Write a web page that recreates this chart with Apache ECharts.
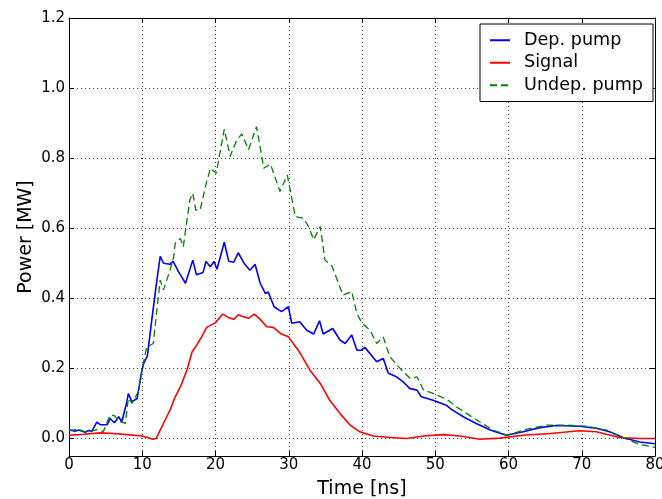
<!DOCTYPE html>
<html>
<head>
<meta charset="utf-8">
<script src="https://cdn.jsdelivr.net/npm/echarts@6/dist/echarts.min.js"></script>
<style>
html,body{margin:0;padding:0;background:#fff;}
#chart{width:662px;height:499px;}
</style>
</head>
<body>
<div id="chart"></div>
<script>
// Time [ns], Power [MW] pairs
var depPump = [
[0,0.024],[0.9,0.021],[1.3,0.024],[2.2,0.018],[2.7,0.023],[3.1,0.02],[3.8,0.047],[4.3,0.039],[5.2,0.039],[5.6,0.057],
[6.2,0.045],[6.8,0.062],[7.2,0.047],[7.9,0.105],[8.1,0.128],[8.6,0.105],[9.3,0.114],[9.5,0.138],[9.95,0.195],[10.2,0.214],
[10.7,0.236],[11.3,0.338],[12.0,0.452],[12.45,0.52],[12.9,0.50],[13.8,0.497],[14.2,0.506],[14.95,0.476],[15.9,0.443],[16.9,0.509],
[17.4,0.467],[18.3,0.474],[18.7,0.505],[19.3,0.49],[19.8,0.505],[20.2,0.483],[21.2,0.56],[21.8,0.506],[22.5,0.503],[23.1,0.53],
[24.0,0.497],[24.7,0.48],[25.4,0.497],[26.1,0.443],[26.8,0.414],[27.2,0.418],[28.0,0.376],[29.0,0.362],[29.95,0.376],[30.4,0.329],
[31.5,0.333],[32.45,0.309],[33.4,0.298],[34.2,0.336],[34.7,0.298],[36.0,0.314],[37.0,0.281],[37.7,0.271],[38.6,0.295],[39.3,0.252],
[39.9,0.252],[40.4,0.26],[42.0,0.219],[42.9,0.228],[43.6,0.186],[44.7,0.176],[45.6,0.162],[46.5,0.143],[47.5,0.138],[48.1,0.119],
[49.7,0.109],[51.5,0.095],[52.2,0.083],[54.0,0.06],[55.6,0.043],[57.5,0.024],[59.7,0.009],[62.0,0.019],[64.3,0.031],[66.5,0.037],
[69.7,0.035],[72.0,0.029],[73.8,0.019],[75.6,0.003],[77.9,-0.01],[80,-0.015]
];
var signal = [
[0,0.009],[2,0.012],[4.3,0.016],[6,0.014],[7.9,0.011],[9.95,0.007],[10.8,0.002],[11.45,-0.002],[11.9,0.0],[12.45,0.024],
[13.1,0.052],[13.8,0.081],[14.5,0.119],[15.2,0.147],[16.1,0.195],[16.8,0.247],[17.45,0.267],[18.1,0.29],[18.8,0.317],[19.95,0.33],
[21.0,0.355],[21.8,0.345],[22.5,0.34],[23.1,0.353],[23.7,0.348],[24.5,0.343],[25.3,0.355],[26.1,0.34],[27.0,0.319],[27.9,0.317],
[29.0,0.298],[29.95,0.29],[31.3,0.252],[32.9,0.195],[34.3,0.157],[35.6,0.109],[37.0,0.071],[38.4,0.038],[39.7,0.019],[41.5,0.007],
[43.8,0.003],[46.1,0.0],[48.4,0.007],[51.1,0.011],[53.4,0.007],[56.1,-0.002],[58.8,0.001],[62,0.009],[65.7,0.014],[69.7,0.022],
[72,0.019],[75.1,0.003],[77.9,0.0],[80,0.0]
];
var undepPump = [
[0,0.024],[0.5,0.024],[1.3,0.026],[2.0,0.02],[2.9,0.02],[3.8,0.025],[4.7,0.02],[5.6,0.067],[6.2,0.065],[6.8,0.05],
[7.7,0.043],[8.1,0.115],[8.6,0.1],[9.5,0.135],[10.0,0.2],[10.6,0.26],[11.5,0.271],[12.2,0.405],[12.45,0.452],[12.9,0.424],
[13.8,0.481],[14.3,0.519],[14.5,0.557],[15.2,0.571],[15.6,0.547],[16.5,0.681],[16.9,0.7],[17.3,0.652],[17.9,0.652],[18.7,0.725],
[19.3,0.771],[20.1,0.757],[21.2,0.883],[22.0,0.805],[22.9,0.852],[23.6,0.869],[24.5,0.824],[25.6,0.89],[26.6,0.771],[27.5,0.783],
[28.8,0.705],[29.8,0.752],[30.9,0.633],[32.0,0.629],[32.7,0.605],[33.4,0.567],[34.3,0.605],[34.95,0.509],[35.9,0.492],[37.4,0.409],
[38.6,0.419],[39.3,0.357],[40.0,0.329],[41.1,0.309],[42.0,0.271],[42.9,0.29],[43.8,0.233],[45.2,0.2],[46.6,0.171],[47.5,0.176],
[48.4,0.138],[49.7,0.129],[51.3,0.114],[51.7,0.11],[52.9,0.09],[54.3,0.071],[56.1,0.047],[57.9,0.024],[59.8,0.009],[62.4,0.026],
[65.2,0.038],[67.9,0.038],[70.6,0.035],[73.4,0.024],[75.6,0.003],[77.9,-0.017],[80,-0.025]
];
var yTicks = [0, 0.2, 0.4, 0.6, 0.8, 1.0, 1.2];
var seriesNames = ['Dep. pump', 'Signal', 'Undep. pump'];

var font = 'DejaVu Sans';
var chart = echarts.init(document.getElementById('chart'), null, {renderer: 'canvas'});
var axisLineStyle = {color: '#000', width: 1};
var gridStyle = {color: '#444', width: 1, type: [1, 3]};

chart.setOption({
  animation: false,
  backgroundColor: '#fff',
  grid: {left: 69, right: 7, top: 18, bottom: 43, containLabel: false, outerBoundsMode: 'none'},
  legend: {
    orient: 'vertical', right: 9, top: 24,
    data: seriesNames,
    backgroundColor: '#fff',
    borderColor: '#000', borderWidth: 1, borderRadius: 0,
    padding: [5, 10, 5, 9],
    itemWidth: 20, itemHeight: 14, itemGap: 0,
    itemStyle: {opacity: 0},
    textStyle: {fontFamily: font, fontSize: 17.6, color: '#000', lineHeight: 22.5, padding: [0, 0, 0, 9]}
  },
  xAxis: [{
    type: 'value', min: 0, max: 80, interval: 10, position: 'bottom',
    name: 'Time [ns]', nameLocation: 'middle', nameGap: 24, nameMoveOverlap: false,
    nameTextStyle: {fontFamily: font, fontSize: 19, color: '#000'},
    axisLine: {show: true, onZero: false, lineStyle: axisLineStyle},
    axisTick: {show: true, inside: true, length: 5, lineStyle: axisLineStyle},
    axisLabel: {fontFamily: font, fontSize: 15, color: '#000', margin: 2},
    splitLine: {show: true, lineStyle: gridStyle}
  }, {
    type: 'value', min: 0, max: 80, interval: 10, position: 'top',
    axisLine: {show: true, onZero: false, lineStyle: axisLineStyle},
    axisTick: {show: true, inside: true, length: 5, lineStyle: axisLineStyle},
    axisLabel: {show: false},
    splitLine: {show: false}
  }],
  yAxis: [{
    type: 'value', min: -0.05, max: 1.2, position: 'left',
    name: 'Power [MW]', nameLocation: 'middle', nameGap: 33, nameRotate: 90, nameMoveOverlap: false,
    nameTextStyle: {fontFamily: font, fontSize: 19, color: '#000'},
    axisLine: {show: true, onZero: false, lineStyle: axisLineStyle},
    axisTick: {show: true, inside: true, length: 5, lineStyle: axisLineStyle, customValues: yTicks},
    axisLabel: {fontFamily: font, fontSize: 15, color: '#000', margin: 4, customValues: yTicks,
      formatter: function (v) { return v.toFixed(1); }},
    splitLine: {show: true, lineStyle: gridStyle}
  }, {
    type: 'value', min: -0.05, max: 1.2, position: 'right',
    axisLine: {show: true, onZero: false, lineStyle: axisLineStyle},
    axisTick: {show: true, inside: true, length: 5, lineStyle: axisLineStyle, customValues: yTicks},
    axisLabel: {show: false},
    splitLine: {show: false}
  }],
  series: [{
    name: seriesNames[0], type: 'line', data: depPump, showSymbol: false, symbol: 'none',
    xAxisIndex: 0, yAxisIndex: 0, z: 3,
    lineStyle: {color: '#0000ff', width: 1.6}, itemStyle: {color: '#0000ff'}
  }, {
    name: seriesNames[1], type: 'line', data: signal, showSymbol: false, symbol: 'none',
    xAxisIndex: 0, yAxisIndex: 0, z: 3,
    lineStyle: {color: '#ff0000', width: 1.6}, itemStyle: {color: '#ff0000'}
  }, {
    name: seriesNames[2], type: 'line', data: undepPump, showSymbol: false, symbol: 'none',
    xAxisIndex: 0, yAxisIndex: 0, z: 3,
    lineStyle: {color: '#008000', width: 1.3, type: [7, 4]}, itemStyle: {color: '#008000'}
  }]
});
</script>
</body>
</html>
